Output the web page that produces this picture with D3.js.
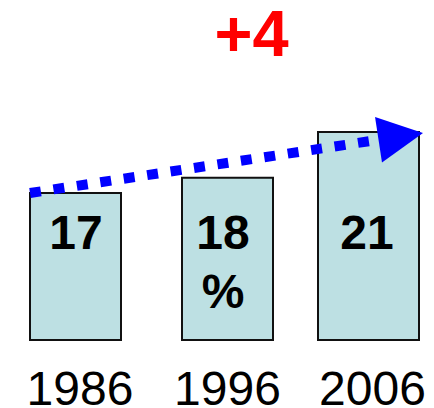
<!DOCTYPE html>
<html><head><meta charset="utf-8">
<script src="https://cdn.jsdelivr.net/npm/d3@7"></script>
<style>html,body{margin:0;padding:0;background:#fff;}svg{display:block;}</style>
</head><body>
<svg id="c" width="434" height="408"></svg>
<script>
const years = ["1986", "1996", "2006"];
const values = [17, 18, 21];
const valueLabels = [["17"], ["18", "%"], ["21"]];
const changeLabel = "+4";

const svg = d3.select("#c");
const font = "'Liberation Sans', Arial, sans-serif";

const y = d3.scaleLinear().domain([7.36, 21]).range([340, 132]);
const xCenter = d3.scaleOrdinal().domain(years).range([75.5, 227.5, 368.5]);
const xWidth = d3.scaleOrdinal().domain(years).range([91, 91, 101]);
const xLabel = d3.scaleOrdinal().domain(years).range([80, 227.5, 372.5]);
const xText = d3.scaleOrdinal().domain(years).range([76, 223, 367]);

const data = years.map((yr, i) => ({yr, v: values[i], lab: valueLabels[i]}));

svg.selectAll("rect.bar").data(data).join("rect")
  .attr("class", "bar")
  .attr("x", d => xCenter(d.yr) - xWidth(d.yr) / 2)
  .attr("y", d => y(d.v))
  .attr("width", d => xWidth(d.yr))
  .attr("height", d => y.range()[0] - y(d.v))
  .attr("fill", "#bde0e3")
  .attr("stroke", "#111")
  .attr("stroke-width", 2);

const vt = svg.selectAll("text.val").data(data).join("text")
  .attr("class", "val")
  .attr("font-family", font)
  .attr("font-weight", "bold")
  .attr("font-size", 48)
  .attr("fill", "#000")
  .attr("text-anchor", "middle");
vt.selectAll("tspan").data(d => d.lab.map((t, j) => ({t, j, yr: d.yr}))).join("tspan")
  .attr("x", d => xText(d.yr))
  .attr("y", d => 249 + d.j * 59)
  .text(d => d.t);

svg.selectAll("text.yr").data(data).join("text")
  .attr("class", "yr")
  .attr("x", d => xLabel(d.yr))
  .attr("y", 405)
  .attr("font-family", font)
  .attr("font-size", 48)
  .attr("fill", "#000")
  .attr("text-anchor", "middle")
  .text(d => d.yr);

// trend arrow from first bar to last bar
const first = data[0], last = data[data.length - 1];
const x0 = xCenter(first.yr) - xWidth(first.yr) / 2, y0 = y(first.v);
const x1 = xCenter(last.yr) + xWidth(last.yr) / 2 + 4, y1 = y(last.v) + 1;
const dx = x1 - x0, dy = y1 - y0, L = Math.hypot(dx, dy);
const ux = dx / L, uy = dy / L, px = -uy, py = ux;
const headLen = 45, headHalf = 23;
const bx = x1 - ux * headLen, by = y1 - uy * headLen;

svg.append("line")
  .attr("x1", x0).attr("y1", y0)
  .attr("x2", bx + ux * 2).attr("y2", by + uy * 2)
  .attr("stroke", "#0000ff")
  .attr("stroke-width", 10)
  .attr("stroke-dasharray", "11 12.7");

svg.append("path")
  .attr("d", d3.line()([[x1, y1], [bx + px * headHalf, by + py * headHalf], [bx - px * headHalf, by - py * headHalf]]) + "Z")
  .attr("fill", "#0000ff");

svg.append("text")
  .attr("x", 251.5)
  .attr("y", 56)
  .attr("font-family", font)
  .attr("font-weight", "bold")
  .attr("font-size", 65)
  .attr("fill", "#ff0000")
  .attr("text-anchor", "middle")
  .text(changeLabel);
</script>
</body></html>
